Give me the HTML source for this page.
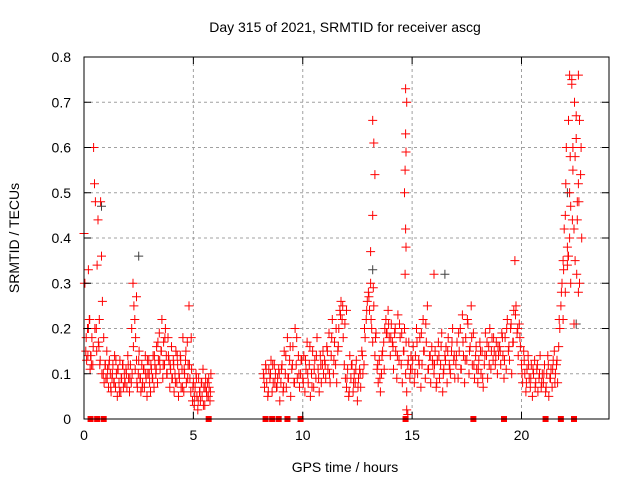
<!DOCTYPE html>
<html><head><meta charset="utf-8"><style>
body{margin:0;background:#fff;}
svg{display:block;font-family:"Liberation Sans",sans-serif;}
</style></head><body>
<svg id="chart" width="640" height="480" xmlns="http://www.w3.org/2000/svg">
<rect width="640" height="480" fill="#fff"/>
<text x="345" y="32" font-size="14" text-anchor="middle">Day 315 of 2021, SRMTID for receiver ascg</text>
<text x="345" y="472" font-size="14" text-anchor="middle">GPS time / hours</text>
<text x="19" y="238" font-size="14" text-anchor="middle" transform="rotate(-90 19 238)">SRMTID / TECUs</text>
<g id="grid"></g>
<g id="marks"></g>
<g id="axes"></g>
</svg>
<script>
const xTicks = [0,5,10,15,20];
const yTicks = [0,0.1,0.2,0.3,0.4,0.5,0.6,0.7,0.8];
const yTickLabels = ["0","0.1","0.2","0.3","0.4","0.5","0.6","0.7","0.8"];
const segAStart = 0.0, segAStep = 0.04;
const segAValues = [41,30,15,13,20,33,22,11,14,18,12,60,52,48,20,34,44,16,12,48,36,26,10,8,12,9,15,11,7,13,10,6,9,12,8,14,7,10,5,11,8,13,6,9,12,7,10,8,
11,7,14,9,6,12,8,10,30,25,22,18,13,7,10,15,9,6,12,8,11,7,14,9,5,10,13,8,6,11,
9,14,7,12,10,16,8,13,19,11,15,22,9,17,12,20,14,10,18,13,7,11,16,9,
13,6,10,15,8,12,5,9,14,7,11,18,6,10,13,8,17,12,25,9,
6,11,4,8,3,7,10,5,2,9,6,4,8,5,11,7,3,9,6,8,5,7,4,10];
const segA2Start = 0.02, segA2Step = 0.08;
const segA2Values = [30,18,14,22,12,16,20,15,17,13,10,18,12,
9,12,7,10,8,13,11,6,9,12,8,10,
12,9,20,16,11,8,13,9,7,11,10,13,
10,12,9,14,11,17,13,15,12,18,10,14,12,
9,12,8,14,10,13,7,11,15,9,12,18,
7,5,9,4,6,8,3,7,5,9,6];
const segBStart = 8.2, segBStep = 0.05;
const segBValues = [10,7,12,8,5,11,9,13,6,8,12,10,7,9,11,4,
8,12,6,15,10,7,18,9,13,5,11,16,8,20,12,9,14,7,10,13,
9,14,6,11,17,8,12,5,10,15,7,13,9,18,11,6,14,8,12,10,
13,9,16,11,19,8,14,22,10,17,12,8,15,20,24,26,22,18,12,9,
7,11,5,14,9,12,6,10,8,13,4,9,11,7,15,10,12,18,22,26,
28,24,30,20,17,25,14,19,11,8,13,6,10,15,17,20,22,19,24,18,
14,21,17,11,19,15,9,23,13,18,12,8,15,20,10,6,12,17,9,14,
11,16,8,14,20,10,13,18,7,12,22,15,9,17,25,11,14,8,16,12,
10,15,7,13,17,9,12,19,6,11,14,16,8,18,12,10,15,20,13,9,
12,17,9,15,20,11,23,14,8,18,13,21,10,16,25,12,19,9,14,11,
8,13,17,10,15,7,12,19,14,9,16,20,11,18,13,15,12,17,10,14,
16,12,19,14,9,18,11,22,15,13,20,10,17,24,35,25,19,14,21,16,
12,8,15,10,6,11,14,9,7,12,5,10,13,8,11,6,9,14,7,10,
8,12,6,10,14,5,9,11,7,13,15,10,12,8,16,20,25,30,35,42,
45,60,38,66,50,30,74,55,42,35,62,48,28,66,54,40];
const segB2Start = 8.225, segB2Step = 0.1;
const segB2Values = [9,11,6,10,12,8,7,10,
11,7,14,9,16,12,8,18,10,13,
8,13,10,16,7,11,14,9,12,15,
12,15,10,18,13,20,16,23,25,21,
9,6,12,8,11,7,10,14,20,24,
27,22,29,18,12,9,14,11,19,21,
18,16,20,14,21,19,15,17,13,11,
13,10,17,12,19,15,21,11,14,13,
12,8,14,16,10,13,15,11,17,14,
14,19,11,17,13,22,15,18,12,16,
11,15,9,14,17,12,15,18,14,16,
15,18,13,20,16,21,17,23,20,18,
10,13,8,12,9,11,7,12,10,8,
10,7,12,9,11,8,13,22,28,33,
52,36,58,44,70,32,48,60];
const spikeTimes = [13.2,13.25,13.3,13.1,13.2,14.7,14.75,14.7,14.72,14.68,14.65,14.7,14.72,14.68,14.75,14.8,22.2,22.3,22.6,22.5,22.35,22.6,22.55,22.0,22.1,22.4,21.9,22.2,0.2,0.3,2.4,12.0,16.0,0.7,22.45,22.25,22.65,22.15];
const spikeValues = [0.66,0.61,0.54,0.37,0.45,0.73,0.70,0.63,0.59,0.55,0.50,0.42,0.38,0.32,0.02,0.01,0.76,0.75,0.76,0.67,0.60,0.52,0.44,0.28,0.34,0.21,0.22,0.40,0.20,0.14,0.27,0.24,0.32,0.22,0.58,0.47,0.30,0.36];
const blackTimes = [0.8,2.5,13.2,16.5,22.5,22.1];
const blackValues = [0.47,0.36,0.33,0.32,0.21,0.50];
const zeroTimes = [0.3,0.6,0.9,5.7,8.3,8.6,8.9,9.3,9.9,14.7,17.8,19.2,21.1,21.8,22.4];

const X0=84, X1=609, Y0=419, Y1=57;
const xS = t => X0 + t/24*(X1-X0);
const yS = v => Y0 - v/0.8*(Y0-Y1);
const NS='http://www.w3.org/2000/svg';
function mk(tag, attrs, parent){const e=document.createElementNS(NS,tag);for(const k in attrs)e.setAttribute(k,attrs[k]);parent.appendChild(e);return e;}
const grid=document.getElementById('grid'), marks=document.getElementById('marks'), axes=document.getElementById('axes');

yTicks.forEach((v,i)=>{
  const y=yS(v);
  if(i>0&&i<yTicks.length-1){const g=mk('line',{x1:X0,x2:X1,y1:y,y2:y,stroke:'#a0a0a0','stroke-dasharray':'3,3'},grid);
  
  }
  const tk=mk('path',{d:`M${X0},${y}h7M${X1},${y}h-7`,stroke:'#000'},axes);
  
  
  const t=mk('text',{x:X0-13,y:y+5,'font-size':14,'text-anchor':'end'},axes);
  t.textContent=yTickLabels[i];
  
  
});
xTicks.forEach(v=>{
  const x=xS(v);
  if(v>0){const g=mk('line',{x1:x,x2:x,y1:Y1,y2:Y0,stroke:'#a0a0a0','stroke-dasharray':'3,3'},grid);
  
  }
  const tk=mk('path',{d:`M${x},${Y0}v-7M${x},${Y1}v7`,stroke:'#000'},axes);
  
  
  const t=mk('text',{x:x,y:Y0+21,'font-size':14,'text-anchor':'middle'},axes);
  t.textContent=String(v);
  
  
});
const frame=mk('rect',{x:X0,y:Y1,width:X1-X0,height:Y0-Y1,fill:'none',stroke:'#000'},axes);



let d='';
function plus(t,v){const x=xS(t),y=yS(v);d+=`M${(x-4.5).toFixed(1)},${y.toFixed(1)}h9M${x.toFixed(1)},${(y-4.5).toFixed(1)}v9`;}
d='';
blackTimes.forEach((t,i)=>plus(t,blackValues[i]));
const blk=mk('path',{d:d,stroke:'#404040','stroke-width':1,fill:'none'},marks);


d='';
segAValues.forEach((v,i)=>plus(segAStart+i*segAStep,v/100));
segA2Values.forEach((v,i)=>plus(segA2Start+i*segA2Step,v/100));
segBValues.forEach((v,i)=>plus(segBStart+i*segBStep,v/100));
segB2Values.forEach((v,i)=>plus(segB2Start+i*segB2Step,v/100));
spikeTimes.forEach((t,i)=>plus(t,spikeValues[i]));
const red=mk('path',{d:d,stroke:'#ff0000','stroke-width':1,fill:'none'},marks);


zeroTimes.forEach(t=>{
  const r=mk('rect',{x:xS(t)-3,y:Y0-3,width:6,height:6,fill:'#ff0000'},marks);
  
  
});
</script>
</body></html>
